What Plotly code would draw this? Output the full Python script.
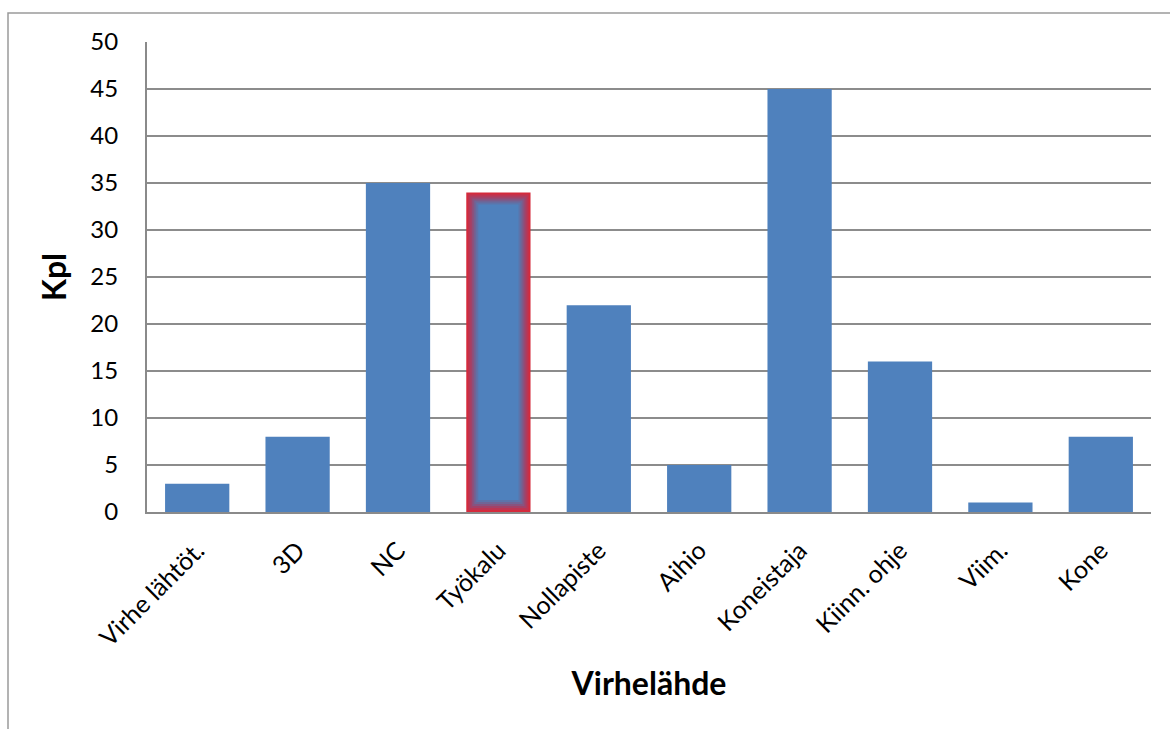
import plotly.graph_objects as go

categories = ["Virhe lähtöt.", "3D", "NC", "Työkalu", "Nollapiste", "Aihio",
              "Koneistaja", "Kiinn. ohje", "Viim.", "Kone"]
values = [3, 8, 35, 34, 22, 5, 45, 16, 1, 8]
highlight = "Työkalu"

y_ticks = [0, 5, 10, 15, 20, 25, 30, 35, 40, 45, 50]

BLUE = "#4F81BD"
FONT = "Lato"
BAR_W = 0.64

fig = go.Figure()

normal_vals = [None if c == highlight else v for c, v in zip(categories, values)]
fig.add_trace(go.Bar(x=categories, y=normal_vals, marker=dict(color=BLUE, line=dict(width=0)),
                     width=BAR_W, hoverinfo="x+y"))

# glow effect for highlighted bar: layered bars from red edge to blue center
hv = values[categories.index(highlight)]
px_x = 1 / 100.4   # data units per pixel (x)
px_y = 50 / 470    # data units per pixel (y)
layers = [
    (0, "#D42A3C"),
    (2, "#BC3552"),
    (4, "#A24268"),
    (6, "#88537F"),
    (8, "#6F6596"),
    (10, "#5C74AA"),
    (12, BLUE),
]
for inset, col in layers:
    fig.add_trace(go.Bar(x=[highlight], y=[hv - 2 * inset * px_y], base=[inset * px_y],
                         width=BAR_W - 2 * inset * px_x,
                         marker=dict(color=col, line=dict(width=0)),
                         hoverinfo="skip"))

fig.update_layout(
    barmode="overlay",
    width=1170, height=729,
    margin=dict(l=147, r=19, t=42, b=217),
    paper_bgcolor="white", plot_bgcolor="white",
    showlegend=False,
    font=dict(family=FONT, size=24, color="black"),
    shapes=[dict(type="rect", xref="paper", yref="paper",
                 x0=-139 / 1004, x1=1.2, y0=-1, y1=(470 + 29) / 470,
                 line=dict(color="#9a9a9a", width=1.5), fillcolor="rgba(0,0,0,0)",
                 layer="below")],
)
fig.update_xaxes(
    categoryorder="array", categoryarray=categories,
    tickangle=-45, showline=True, linecolor="#8a8a8a", linewidth=2,
    ticks="", showgrid=False, ticklabelstandoff=12,
    title=dict(text="<b>Virhelähde</b>", font=dict(size=32, family=FONT), standoff=22),
    tickfont=dict(size=25, family=FONT),
)
fig.update_yaxes(
    range=[0, 50], tickvals=y_ticks, showline=True, linecolor="#8a8a8a", linewidth=2,
    showgrid=True, gridcolor="#8c8c8c", gridwidth=2, ticks="",
    ticklabelstandoff=22, zeroline=False,
    title=dict(text="<b>Kpl</b>", font=dict(size=32, family=FONT), standoff=14),
    tickfont=dict(size=24, family=FONT),
)

fig.write_html("out.html")
